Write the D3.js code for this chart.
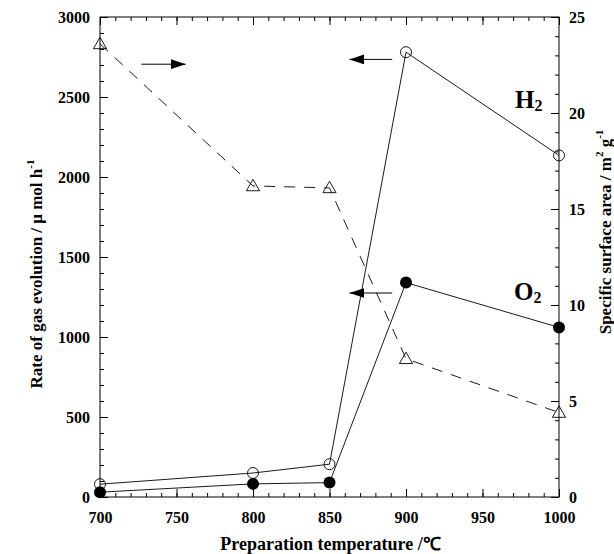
<!DOCTYPE html>
<html>
<head>
<meta charset="utf-8">
<script src="https://cdn.jsdelivr.net/npm/d3@7"></script>
<style>
  body { margin: 0; background: #fff; }
  text { font-family: "Liberation Serif", "Times New Roman", serif; font-weight: bold; fill: #000; }
</style>
</head>
<body>
<div id="chart"></div>
<script>
var temps = [700, 800, 850, 900, 1000];
var h2Rate = [80, 150, 205, 2780, 2135];
var o2Rate = [30, 82, 90, 1340, 1060];
var surfaceArea = [23.6, 16.2, 16.1, 7.2, 4.4];

var xTicks = [700, 750, 800, 850, 900, 950, 1000];
var leftTicks = [0, 500, 1000, 1500, 2000, 2500, 3000];
var rightTicks = [0, 5, 10, 15, 20, 25];

// arrows telling which axis a curve is read on (x in degC, y on the left scale)
var arrowNotes = [
    {from: 727, to: 756, y: 2705},
    {from: 891, to: 863, y: 2735},
    {from: 891, to: 863, y: 1275}
];

var width = 614,
    height = 554,
    plotLeft = 100, plotRight = 559,
    plotTop = 17, plotBottom = 497;

var x = d3.scaleLinear().domain([700, 1000]).range([plotLeft, plotRight]);
var yL = d3.scaleLinear().domain([0, 3000]).range([plotBottom, plotTop]);
var yR = d3.scaleLinear().domain([0, 25]).range([plotBottom, plotTop]);

var svg = d3.select('#chart').append('svg')
    .attr('width', width)
    .attr('height', height)
    .style('background', '#fff');

svg.append('defs').append('marker')
    .attr('id', 'head')
    .attr('viewBox', '0 0 15 10')
    .attr('refX', 15).attr('refY', 5)
    .attr('markerWidth', 15).attr('markerHeight', 10)
    .attr('markerUnits', 'userSpaceOnUse')
    .attr('orient', 'auto')
  .append('path')
    .attr('d', 'M0,0 L15,5 L0,10 Z')
    .attr('fill', '#000');

function minor(step, lo, hi) {
    return d3.range(lo, hi + step / 2, step);
}

function styleAxis(g) {
    g.select('.domain').remove();
    g.selectAll('line').attr('stroke', '#000');
    g.selectAll('text').style('font-size', '16px');
}

// minor ticks
svg.append('g').attr('transform', 'translate(0,' + plotBottom + ')')
    .call(d3.axisBottom(x).tickValues(minor(10, 700, 1000)).tickSize(-4).tickFormat(''))
    .call(styleAxis);
svg.append('g').attr('transform', 'translate(0,' + plotTop + ')')
    .call(d3.axisTop(x).tickValues(minor(10, 700, 1000)).tickSize(-4).tickFormat(''))
    .call(styleAxis);
svg.append('g').attr('transform', 'translate(' + plotLeft + ',0)')
    .call(d3.axisLeft(yL).tickValues(minor(100, 0, 3000)).tickSize(-4).tickFormat(''))
    .call(styleAxis);
svg.append('g').attr('transform', 'translate(' + plotRight + ',0)')
    .call(d3.axisRight(yR).tickValues(minor(1, 0, 25)).tickSize(-4).tickFormat(''))
    .call(styleAxis);

// major ticks with labels
svg.append('g').attr('transform', 'translate(0,' + plotBottom + ')')
    .call(d3.axisBottom(x).tickValues(xTicks).tickSize(-8).tickPadding(15).tickFormat(d3.format('d')))
    .call(styleAxis);
svg.append('g').attr('transform', 'translate(0,' + plotTop + ')')
    .call(d3.axisTop(x).tickValues(xTicks).tickSize(-8).tickFormat(''))
    .call(styleAxis);
svg.append('g').attr('transform', 'translate(' + plotLeft + ',0)')
    .call(d3.axisLeft(yL).tickValues(leftTicks).tickSize(-8).tickPadding(10).tickFormat(d3.format('d')))
    .call(styleAxis);
svg.append('g').attr('transform', 'translate(' + plotRight + ',0)')
    .call(d3.axisRight(yR).tickValues(rightTicks).tickSize(-8).tickPadding(10).tickFormat(d3.format('d')))
    .call(styleAxis);

svg.append('rect')
    .attr('x', plotLeft).attr('y', plotTop)
    .attr('width', plotRight - plotLeft).attr('height', plotBottom - plotTop)
    .attr('fill', 'none').attr('stroke', '#000').attr('stroke-width', 1);

// series
var lineL = d3.line().x(function(d, i) { return x(temps[i]); }).y(function(d) { return yL(d); });
var lineR = d3.line().x(function(d, i) { return x(temps[i]); }).y(function(d) { return yR(d); });

svg.append('path').attr('d', lineR(surfaceArea))
    .attr('fill', 'none').attr('stroke', '#000').attr('stroke-width', 0.9)
    .attr('stroke-dasharray', '11,9');
svg.append('path').attr('d', lineL(h2Rate))
    .attr('fill', 'none').attr('stroke', '#000').attr('stroke-width', 0.9);
svg.append('path').attr('d', lineL(o2Rate))
    .attr('fill', 'none').attr('stroke', '#000').attr('stroke-width', 0.9);

svg.selectAll('.tri').data(surfaceArea).enter().append('path')
    .attr('class', 'tri')
    .attr('d', d3.symbol().type(d3.symbolTriangle).size(75))
    .attr('transform', function(d, i) { return 'translate(' + x(temps[i]) + ',' + (yR(d) + 1) + ')'; })
    .attr('fill', 'none').attr('stroke', '#000').attr('stroke-width', 0.9);

svg.selectAll('.h2').data(h2Rate).enter().append('circle')
    .attr('class', 'h2')
    .attr('cx', function(d, i) { return x(temps[i]); })
    .attr('cy', function(d) { return yL(d); })
    .attr('r', 5.5)
    .attr('fill', 'none').attr('stroke', '#000').attr('stroke-width', 0.9);

svg.selectAll('.o2').data(o2Rate).enter().append('circle')
    .attr('class', 'o2')
    .attr('cx', function(d, i) { return x(temps[i]); })
    .attr('cy', function(d) { return yL(d); })
    .attr('r', 6)
    .attr('fill', '#000');

// arrows
svg.selectAll('.arrow').data(arrowNotes).enter().append('line')
    .attr('class', 'arrow')
    .attr('x1', function(d) { return x(d.from); })
    .attr('x2', function(d) { return x(d.to); })
    .attr('y1', function(d) { return yL(d.y); })
    .attr('y2', function(d) { return yL(d.y); })
    .attr('stroke', '#000').attr('stroke-width', 1)
    .attr('marker-end', 'url(#head)');

// curve labels
function gasLabel(txt, px, py) {
    var t = svg.append('text').attr('x', px).attr('y', py).style('font-size', '25px');
    t.append('tspan').text(txt);
    t.append('tspan').text('2').style('font-size', '16px').attr('dy', 3);
}
gasLabel('H', 515, 108);
gasLabel('O', 514, 300);

// axis titles
svg.append('text')
    .attr('x', (plotLeft + plotRight) / 2 + 1).attr('y', 550)
    .attr('text-anchor', 'middle')
    .style('font-size', '18px')
    .text('Preparation temperature /\u2103');

var lt = svg.append('text')
    .attr('transform', 'translate(42,274) rotate(-90)')
    .attr('text-anchor', 'middle')
    .style('font-size', '17px');
lt.append('tspan').text('Rate of gas evolution /  \u03bc mol h');
lt.append('tspan').text('-1').style('font-size', '11px').attr('dy', -8);

var rt = svg.append('text')
    .attr('transform', 'translate(611,232) rotate(-90)')
    .attr('text-anchor', 'middle')
    .style('font-size', '17px');
rt.append('tspan').text('Specific surface area / m');
rt.append('tspan').text('2').style('font-size', '11px').attr('dy', -8);
rt.append('tspan').text(' g').style('font-size', '17px').attr('dy', 8);
rt.append('tspan').text('-1').style('font-size', '11px').attr('dy', -8);
</script>
</body>
</html>
